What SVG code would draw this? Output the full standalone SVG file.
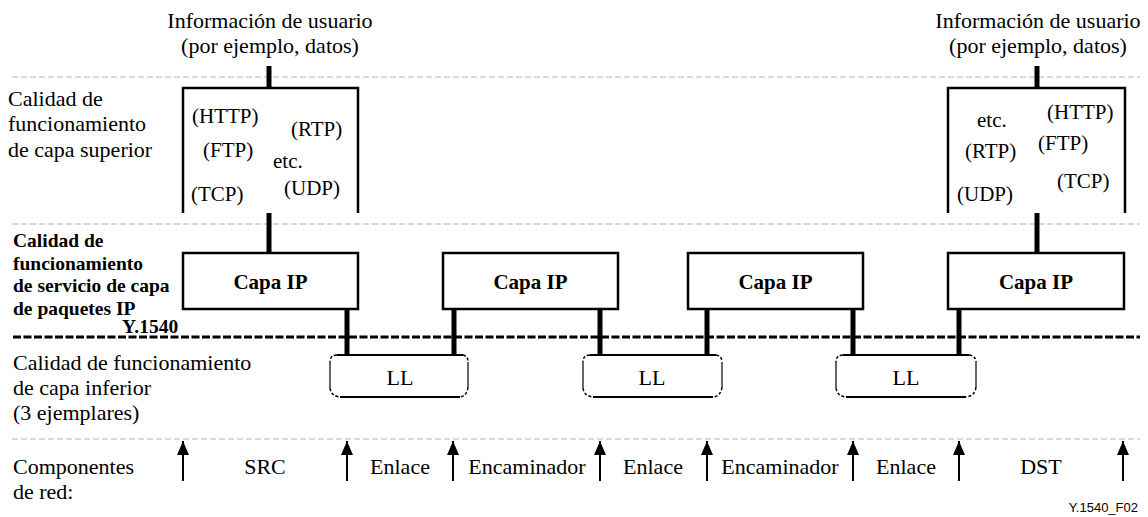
<svg xmlns="http://www.w3.org/2000/svg" width="1148" height="517" viewBox="0 0 1148 517">
  <style>
    .t { font-family: "Liberation Serif", "Times New Roman", serif; font-size: 22px; fill: #000; }
    .p { font-family: "Liberation Serif", "Times New Roman", serif; font-size: 21px; fill: #000; }
    .b { font-family: "Liberation Serif", "Times New Roman", serif; font-size: 19.5px; font-weight: bold; fill: #000; }
    .ip { font-family: "Liberation Serif", "Times New Roman", serif; font-size: 21px; font-weight: bold; fill: #000; text-anchor: middle; }
    .c { text-anchor: middle; }
    .sep { stroke: #b4b4b4; stroke-width: 1; stroke-dasharray: 6 3; fill: none; }
    .sepb { stroke: #000; stroke-width: 3; stroke-dasharray: 8 2.5; fill: none; }
    .box { fill: #fff; stroke: #000; stroke-width: 2.5; }
    .open { fill: none; stroke: #000; stroke-width: 2.5; }
    .bar { stroke: #000; stroke-width: 5; fill: none; }
    .llline { stroke: #000; stroke-width: 2; fill: none; }
    .llside { stroke: #000; stroke-width: 1.2; fill: none; }
    .llcorner { stroke: #000; stroke-width: 1.5; fill: none; stroke-dasharray: 3 2; }
    .shaft { stroke: #000; stroke-width: 2; }
    .foot { font-family: "Liberation Sans", Arial, sans-serif; font-size: 13px; fill: #000; text-anchor: end; }
  </style>
  <defs>
    <marker id="arrowUp" viewBox="0 0 12 14" refX="6" refY="0" markerWidth="12" markerHeight="14" markerUnits="userSpaceOnUse" orient="0">
      <path d="M6 0 L12 14 L0 14 Z" fill="#000"/>
    </marker>
  </defs>

  <!-- layer separators -->
  <g id="separators">
    <line class="sep" x1="12" y1="77" x2="1140" y2="77"/>
    <line class="sep" x1="12" y1="224" x2="1140" y2="224"/>
    <line class="sepb" x1="13" y1="337" x2="1140" y2="337"/>
    <line class="sep" x1="12" y1="439" x2="1140" y2="439"/>
  </g>

  <!-- row labels -->
  <g id="row-labels">
    <text class="t" x="8" y="106">Calidad de</text>
    <text class="t" x="8" y="131">funcionamiento</text>
    <text class="t" x="8" y="157">de capa superior</text>

    <text class="b" x="13" y="247">Calidad de</text>
    <text class="b" x="13" y="270">funcionamiento</text>
    <text class="b" x="13" y="292">de servicio de capa</text>
    <text class="b" x="13" y="315">de paquetes IP</text>
    <text class="b" x="122" y="333">Y.1540</text>

    <text class="t" x="13" y="370">Calidad de funcionamiento</text>
    <text class="t" x="13" y="395">de capa inferior</text>
    <text class="t" x="13" y="420">(3 ejemplares)</text>

    <text class="t" x="13" y="474">Componentes</text>
    <text class="t" x="13" y="499">de red:</text>
  </g>

  <!-- user information, source side -->
  <g id="user-info-src">
    <text class="t c" x="270" y="28">Información de usuario</text>
    <text class="t c" x="270" y="53">(por ejemplo, datos)</text>
  </g>

  <!-- user information, destination side -->
  <g id="user-info-dst">
    <text class="t c" x="1038" y="28">Información de usuario</text>
    <text class="t c" x="1038" y="53">(por ejemplo, datos)</text>
  </g>

  <!-- upper layer protocols, source host -->
  <g id="upper-src">
    <path class="open" d="M183 213 V88 H358 V213"/>
    <text class="p" x="192" y="123">(HTTP)</text>
    <text class="p" x="291" y="136">(RTP)</text>
    <text class="p" x="203" y="157">(FTP)</text>
    <text class="p" x="273" y="168">etc.</text>
    <text class="p" x="191" y="201">(TCP)</text>
    <text class="p" x="284" y="195">(UDP)</text>
  </g>

  <!-- upper layer protocols, destination host -->
  <g id="upper-dst">
    <path class="open" d="M948 213 V88 H1125 V213"/>
    <text class="p" x="977" y="127">etc.</text>
    <text class="p" x="1047" y="119">(HTTP)</text>
    <text class="p" x="1038" y="150">(FTP)</text>
    <text class="p" x="965" y="158">(RTP)</text>
    <text class="p" x="1057" y="188">(TCP)</text>
    <text class="p" x="957" y="201">(UDP)</text>
  </g>

  <!-- IP layer blocks -->
  <g id="ip-src">
    <rect class="box" x="183" y="253" width="175" height="56"/>
    <text class="ip" x="270.5" y="289">Capa IP</text>
  </g>
  <g id="ip-router1">
    <rect class="box" x="443" y="253" width="175" height="56"/>
    <text class="ip" x="530.5" y="289">Capa IP</text>
  </g>
  <g id="ip-router2">
    <rect class="box" x="688" y="253" width="175" height="56"/>
    <text class="ip" x="775.5" y="289">Capa IP</text>
  </g>
  <g id="ip-dst">
    <rect class="box" x="948" y="253" width="176" height="56"/>
    <text class="ip" x="1036" y="289">Capa IP</text>
  </g>

  <!-- lower layer instances -->
  <g id="ll-1">
    <line class="llline" x1="337" y1="355" x2="463" y2="355"/>
    <line class="llline" x1="340" y1="397" x2="460" y2="397"/>
    <line class="llside" x1="330" y1="362" x2="330" y2="388"/>
    <line class="llside" x1="468" y1="362" x2="468" y2="387"/>
    <path class="llcorner" d="M337 355 Q330 355 330 362 M330 388 Q331 396 340 397 M463 355 Q468 356 468 362 M468 387 Q467 396 460 397"/>
    <text class="t c" x="400" y="385">LL</text>
  </g>
  <g id="ll-2">
    <line class="llline" x1="590" y1="355" x2="716" y2="355"/>
    <line class="llline" x1="593" y1="397" x2="713" y2="397"/>
    <line class="llside" x1="583" y1="362" x2="583" y2="388"/>
    <line class="llside" x1="722" y1="362" x2="722" y2="387"/>
    <path class="llcorner" d="M590 355 Q583 355 583 362 M583 388 Q584 396 593 397 M716 355 Q722 356 722 362 M722 387 Q721 396 713 397"/>
    <text class="t c" x="652" y="385">LL</text>
  </g>
  <g id="ll-3">
    <line class="llline" x1="843" y1="355" x2="969" y2="355"/>
    <line class="llline" x1="846" y1="397" x2="966" y2="397"/>
    <line class="llside" x1="836" y1="362" x2="836" y2="388"/>
    <line class="llside" x1="976" y1="362" x2="976" y2="387"/>
    <path class="llcorner" d="M843 355 Q836 355 836 362 M836 388 Q837 396 846 397 M969 355 Q976 356 976 362 M976 387 Q975 396 966 397"/>
    <text class="t c" x="906" y="385">LL</text>
  </g>

  <!-- network component labels -->
  <g id="components">
    <text class="t c" x="265" y="474">SRC</text>
    <text class="t c" x="400" y="474">Enlace</text>
    <text class="t c" x="527" y="474">Encaminador</text>
    <text class="t c" x="653" y="474">Enlace</text>
    <text class="t c" x="780" y="474">Encaminador</text>
    <text class="t c" x="906" y="474">Enlace</text>
    <text class="t c" x="1041" y="474">DST</text>
  </g>

  <!-- connectors -->
  <g id="connectors">
    <line class="bar" x1="269" y1="66" x2="269" y2="88"/>
    <line class="bar" x1="269" y1="213" x2="269" y2="253"/>
    <line class="bar" x1="1037" y1="66" x2="1037" y2="88"/>
    <line class="bar" x1="1037" y1="213" x2="1037" y2="253"/>

    <line class="bar" x1="347" y1="309" x2="347" y2="355"/>
    <line class="bar" x1="454" y1="309" x2="454" y2="355"/>
    <line class="bar" x1="600" y1="309" x2="600" y2="355"/>
    <line class="bar" x1="707" y1="309" x2="707" y2="355"/>
    <line class="bar" x1="853" y1="309" x2="853" y2="355"/>
    <line class="bar" x1="959" y1="309" x2="959" y2="355"/>

    <!-- boundary arrows between network components -->
    <line class="shaft" x1="183" y1="481" x2="183" y2="441" marker-end="url(#arrowUp)"/>
    <line class="shaft" x1="347" y1="481" x2="347" y2="441" marker-end="url(#arrowUp)"/>
    <line class="shaft" x1="453" y1="481" x2="453" y2="441" marker-end="url(#arrowUp)"/>
    <line class="shaft" x1="600" y1="481" x2="600" y2="441" marker-end="url(#arrowUp)"/>
    <line class="shaft" x1="707" y1="481" x2="707" y2="441" marker-end="url(#arrowUp)"/>
    <line class="shaft" x1="853" y1="481" x2="853" y2="441" marker-end="url(#arrowUp)"/>
    <line class="shaft" x1="959" y1="481" x2="959" y2="441" marker-end="url(#arrowUp)"/>
    <line class="shaft" x1="1123" y1="481" x2="1123" y2="441" marker-end="url(#arrowUp)"/>
  </g>

  <text class="foot" x="1138" y="512">Y.1540_F02</text>
</svg>
